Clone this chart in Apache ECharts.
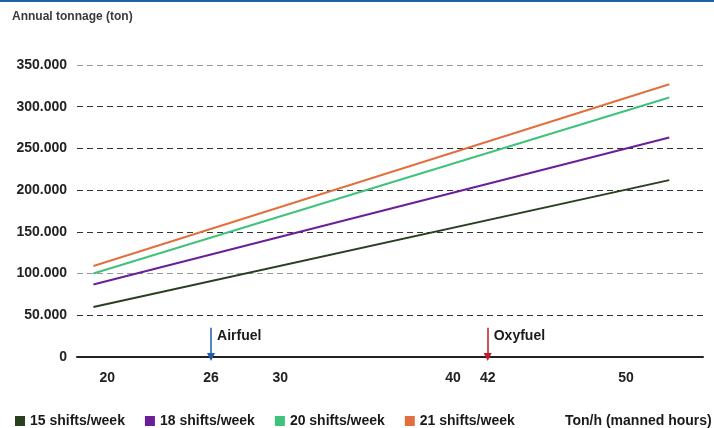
<!DOCTYPE html>
<html>
<head>
<meta charset="utf-8">
<script src="https://cdn.jsdelivr.net/npm/echarts@6/dist/echarts.min.js"></script>
<style>
  html, body { margin: 0; padding: 0; background: #fff; }
  #chart { width: 714px; height: 428px; }
</style>
</head>
<body>
<div id="chart"></div>
<script>
// ton/h at the two ends of each line
const xRange = [19.2, 52.5];
const xTicks = [20, 26, 30, 40, 42, 50];
const yTicks = [0, 50000, 100000, 150000, 200000, 250000, 300000, 350000];

const names = ["15 shifts/week", "18 shifts/week", "20 shifts/week", "21 shifts/week"];
const colors = ["#28401f", "#6a1f98", "#3ec27c", "#e2703e"];
const shifts15 = [60000, 212000];
const shifts18 = [87000, 263000];
const shifts20 = [100000, 311000];
const shifts21 = [109000, 327000];

// process markers: [ton/h, arrow top value]
const airfuel = [26, 35000];
const oxyfuel = [42, 35000];

const FONT = "'Liberation Sans', Arial, sans-serif";
const fmt = (v) => (v === 0 ? "0" : (v / 1000).toFixed(3));

const toPoints = (vals) => vals.map((v, i) => [xRange[i], v]);

const chart = echarts.init(document.getElementById("chart"));

const arrow = (pt, color) => [
  { coord: [pt[0], pt[1]], symbol: "none", lineStyle: { color: color, width: 1.5, type: "solid" } },
  { coord: [pt[0], 0], symbol: "triangle", symbolSize: [8, 8], symbolRotate: 180, itemStyle: { color: color } },
];
const tag = (pt, text) => ({
  coord: [pt[0], pt[1] * 0.72],
  symbol: "circle",
  symbolSize: 0,
  label: {
    show: true,
    position: "right",
    distance: 6,
    formatter: text,
    color: "#1a1a1a",
    fontFamily: FONT,
    fontWeight: "bold",
    fontSize: 14,
  },
});

const series = [shifts15, shifts18, shifts20, shifts21].map((vals, i) => ({
  name: names[i],
  type: "line",
  data: toPoints(vals),
  showSymbol: false,
  lineStyle: { width: 2, color: colors[i] },
  itemStyle: { color: colors[i] },
  silent: true,
}));

series[0].markLine = {
  silent: true,
  animation: false,
  label: { show: false },
  data: [arrow(airfuel, "#1f5cb0"), arrow(oxyfuel, "#c21a2c")],
};
series[0].markPoint = {
  silent: true,
  animation: false,
  data: [tag(airfuel, "Airfuel"), tag(oxyfuel, "Oxyfuel")],
};

chart.setOption({
  animation: false,
  textStyle: { fontFamily: FONT },
  title: [
    {
      text: "Annual tonnage (ton)",
      left: 7,
      top: 6,
      textStyle: { fontSize: 12, fontWeight: "bold", color: "#3a3a3a", fontFamily: FONT },
    },
    {
      text: "Ton/h (manned hours)",
      left: 560,
      top: 409,
      textStyle: { fontSize: 14, fontWeight: "bold", color: "#1a1a1a", fontFamily: FONT },
    },
  ],
  graphic: [
    { type: "rect", left: 0, top: 0, shape: { width: 714, height: 2 }, style: { fill: "#2260a8" } },
  ],
  legend: {
    left: 10,
    top: 409,
    icon: "rect",
    itemWidth: 10,
    itemHeight: 10,
    itemGap: 20,
    data: names,
    textStyle: { fontSize: 14, fontWeight: "bold", color: "#1a1a1a", fontFamily: FONT },
  },
  grid: { left: 77, right: 11, top: 65, bottom: 71 },
  xAxis: {
    type: "value",
    min: 18.25,
    max: 54.45,
    splitLine: { show: false },
    axisTick: { show: false },
    axisLine: { lineStyle: { color: "#222", width: 2 } },
    axisLabel: {
      customValues: xTicks,
      margin: 14,
      fontSize: 14,
      fontWeight: "bold",
      color: "#222",
    },
  },
  yAxis: {
    type: "value",
    min: 0,
    max: 350000,
    interval: 50000,
    axisLine: { show: false },
    axisTick: { show: false },
    axisLabel: {
      customValues: yTicks,
      formatter: fmt,
      margin: 10,
      fontSize: 14,
      fontWeight: "bold",
      color: "#222",
    },
    splitLine: {
      lineStyle: {
        type: [6, 4],
        width: 1,
        color: ["#333", "#333", "#9a9a9a", "#333", "#333", "#333", "#333", "#9a9a9a"],
      },
    },
  },
  series: series,
});
</script>
</body>
</html>
